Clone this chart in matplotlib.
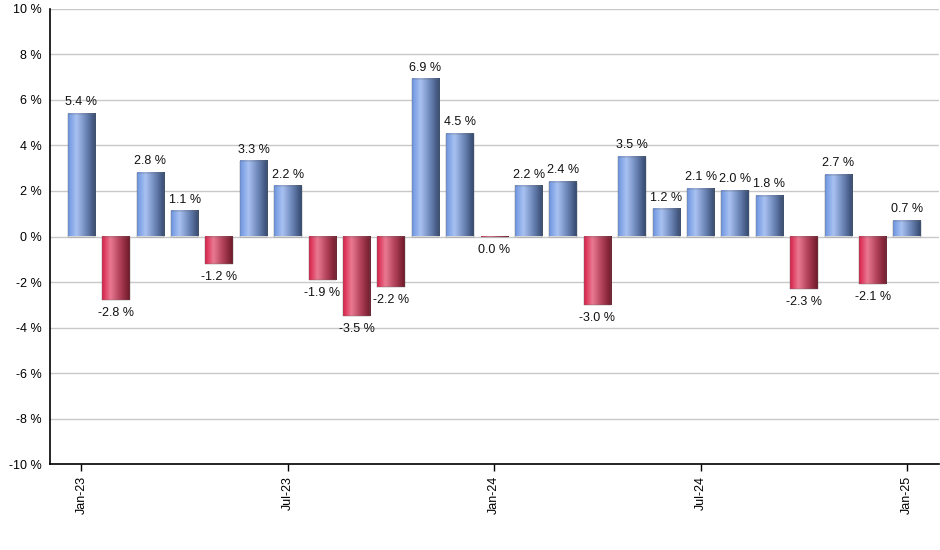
import matplotlib
matplotlib.use("Agg")
import matplotlib.pyplot as plt
import numpy as np
from matplotlib.colors import LinearSegmentedColormap

months = ["Jan-23", "Feb-23", "Mar-23", "Apr-23", "May-23", "Jun-23", "Jul-23",
          "Aug-23", "Sep-23", "Oct-23", "Nov-23", "Dec-23", "Jan-24", "Feb-24",
          "Mar-24", "Apr-24", "May-24", "Jun-24", "Jul-24", "Aug-24", "Sep-24",
          "Oct-24", "Nov-24", "Dec-24", "Jan-25"]
returns = [5.4, -2.8, 2.8, 1.1, -1.2, 3.3, 2.2, -1.9, -3.5, -2.2, 6.9, 4.5, -0.04,
           2.2, 2.4, -3.0, 3.5, 1.2, 2.1, 2.0, 1.8, -2.3, 2.7, -2.1, 0.7]
tick_labels = ["Jan-23", "Jul-23", "Jan-24", "Jul-24", "Jan-25"]

blue_cmap = LinearSegmentedColormap.from_list(
    "blue", [(0, "#6f95e0"), (0.3, "#a9c2f2"), (0.65, "#6c86b8"), (1, "#34486e")])
red_cmap = LinearSegmentedColormap.from_list(
    "red", [(0, "#d8224a"), (0.3, "#ea7a92"), (0.65, "#b04058"), (1, "#6e1828")])

plt.rcParams["font.family"] = ["Liberation Sans", "DejaVu Sans"]

fig = plt.figure(figsize=(9.4, 5.5), dpi=100)
ax = fig.add_axes([0.053, 0.156, 0.946, 0.828])

x = np.arange(len(returns))
width = 0.8
grad = np.linspace(0, 1, 64).reshape(1, -1)
for xi, v in zip(x, returns):
    cmap = blue_cmap if v >= 0 else red_cmap
    ax.imshow(grad, cmap=cmap, extent=[xi - width / 2, xi + width / 2, 0, v],
              aspect="auto", origin="lower", zorder=3, interpolation="bicubic")
    ax.bar(xi, v, width=width, color="none", edgecolor="#6a6a6a", linewidth=0.3, zorder=4)
    label = f"{abs(v) if abs(v) < 0.05 else v:.1f} %"
    if v >= 0:
        ax.annotate(label, (xi, v), xytext=(0, 4), textcoords="offset points",
                    ha="center", va="bottom", fontsize=9, color="#111111")
    else:
        ax.annotate(label, (xi, v), xytext=(0, -5), textcoords="offset points",
                    ha="center", va="top", fontsize=9, color="#111111")

ax.set_xlim(-0.92, 24.93)
ax.set_ylim(-10, 10)
ax.set_yticks(np.arange(-10, 11, 2))
ax.set_yticklabels([f"{t} %" for t in range(-10, 11, 2)], fontsize=9)
ax.tick_params(axis="y", length=0, pad=6)
ax.set_xticks([months.index(t) for t in tick_labels])
ax.set_xticklabels(tick_labels, rotation=90, fontsize=9)
ax.tick_params(axis="x", length=5, width=1, color="black")
ax.grid(axis="y", color="#c8c8c8", linewidth=1, zorder=0)
ax.set_axisbelow(True)
for side in ("top", "right"):
    ax.spines[side].set_visible(False)
for side in ("left", "bottom"):
    ax.spines[side].set_color("black")
    ax.spines[side].set_linewidth(1.2)

fig.savefig("out.png", dpi=100, facecolor="white")
